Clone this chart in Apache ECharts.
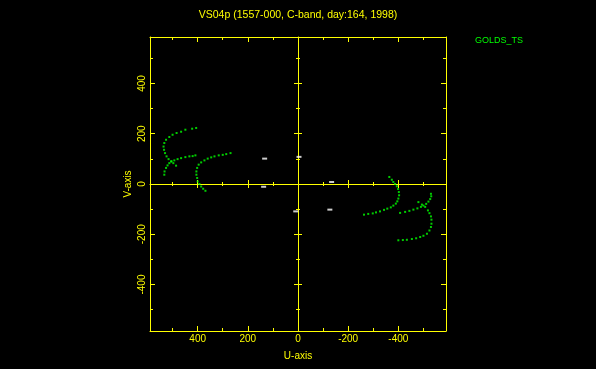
<!DOCTYPE html>
<html><head><meta charset="utf-8">
<script src="https://cdn.jsdelivr.net/npm/echarts@6/dist/echarts.min.js"></script>
<style>html,body{margin:0;padding:0;background:#000}#c{width:596px;height:369px}</style>
</head><body><div id="c"></div><script>
// ---- data ----
const titleText = 'VS04p (1557-000, C-band, day:164, 1998)';
const legendName = 'GOLDS_TS';
const xName = 'U-axis';
const yName = 'V-axis';
const majorLabels = [-400, -200, 0, 200, 400];
const majorTicks = [-400, -200, 200, 400];
const minorTicks = [-500, -300, -100, 100, 300, 500];

// green tracks (u, v)
const trackA = [[406,223],[422,220],[449,216],[466,208],[484,203],[500,196],[513,187],[526,176],[533,163],[536,149],[534,136],[530,123],[524,110],[516,99],[506,90],[497,83],[486,73]];
const trackB = [[533,37],[532,50],[526,64],[520,74],[513,83],[504,90],[493,94],[480,99],[466,103],[449,107],[433,110],[420,111],[409,114]];
const trackC = [[269,123],[286,119],[300,116],[316,114],[333,110],[346,106],[360,101],[373,94],[386,86],[396,77],[402,64],[405,50],[405,37],[402,24],[400,10],[393,0],[386,-10],[378,-19],[369,-27]];
const trackA2 = [[-480,-72],[-494,-82],[-507,-91],[-518,-105],[-524,-116],[-530,-129],[-532,-142],[-532,-158],[-530,-171],[-524,-185],[-514,-198],[-500,-206],[-487,-211],[-471,-216],[-454,-219],[-434,-222],[-418,-223],[-400,-224]];
const trackB2 = [[-530,-39],[-531,-49],[-527,-60],[-520,-70],[-511,-79],[-500,-86],[-490,-91],[-476,-97],[-460,-102],[-444,-107],[-427,-111],[-407,-115]];
const trackC2 = [[-364,28],[-374,17],[-380,8],[-387,0],[-394,-9],[-399,-20],[-402,-32],[-403,-45],[-400,-58],[-396,-69],[-390,-78],[-380,-86],[-370,-93],[-356,-98],[-343,-103],[-327,-109],[-311,-113],[-298,-117],[-280,-119],[-263,-122]];
// white short marks
const whiteMarks = [[133,101],[-4,108],[137,-11],[-134,8],[-127,-102],[9,-109]];

// ---- styling ----
const Y = '#ffff00';
const G = '#00ff00';
const FONT = 'Liberation Sans';
const XR = 590, YR = 585;

function axis(dim, o) {
  const a = {
    type: 'value', min: dim === 'x' ? -XR : -YR, max: dim === 'x' ? XR : YR,
    inverse: dim === 'x', position: o.pos, splitLine: {show: false},
    axisLine: {show: !!o.line, onZero: !!o.zero, onZeroAxisIndex: 0, lineStyle: {color: Y, width: 1}},
    axisTick: {show: true, inside: !!o.inside, length: o.len, customValues: o.ticks, lineStyle: {color: Y, width: 1}},
    axisLabel: {show: false}
  };
  if (o.labels) {
    a.axisLabel = {show: true, customValues: majorLabels, color: Y, fontSize: 10, fontFamily: FONT, margin: 3, rotate: dim === 'y' ? 90 : 0};
    a.name = o.name; a.nameLocation = 'middle'; a.nameGap = o.gap;
    a.nameTextStyle = {color: Y, fontSize: 10, fontFamily: FONT};
  }
  return a;
}

const xAxes = [
  axis('x', {pos: 'bottom', line: true, inside: true, len: 5, ticks: majorTicks, labels: true, name: xName, gap: 20}),
  axis('x', {pos: 'bottom', inside: true, len: 3, ticks: minorTicks}),
  axis('x', {pos: 'top', line: true, inside: true, len: 5, ticks: majorTicks}),
  axis('x', {pos: 'top', inside: true, len: 3, ticks: minorTicks}),
  axis('x', {pos: 'bottom', zero: true, line: true, inside: false, len: 4, ticks: majorTicks}),
  axis('x', {pos: 'bottom', zero: true, inside: true, len: 4, ticks: majorTicks}),
  axis('x', {pos: 'bottom', zero: true, inside: false, len: 2, ticks: minorTicks}),
  axis('x', {pos: 'bottom', zero: true, inside: true, len: 2, ticks: minorTicks})
];
const yAxes = [
  axis('y', {pos: 'left', line: true, inside: true, len: 5, ticks: majorTicks, labels: true, name: yName, gap: 17}),
  axis('y', {pos: 'left', inside: true, len: 3, ticks: minorTicks}),
  axis('y', {pos: 'right', line: true, inside: true, len: 5, ticks: majorTicks}),
  axis('y', {pos: 'right', inside: true, len: 3, ticks: minorTicks}),
  axis('y', {pos: 'left', zero: true, line: true, inside: false, len: 4, ticks: majorTicks}),
  axis('y', {pos: 'left', zero: true, inside: true, len: 4, ticks: majorTicks}),
  axis('y', {pos: 'left', zero: true, inside: false, len: 2, ticks: minorTicks}),
  axis('y', {pos: 'left', zero: true, inside: true, len: 2, ticks: minorTicks})
];

const chart = echarts.init(document.getElementById('c'), null, {renderer: 'canvas'});
chart.setOption({
  backgroundColor: '#000',
  animation: false,
  title: {text: titleText, left: 'center', top: 10, padding: 0,
    textStyle: {color: Y, fontSize: 10.5, fontWeight: 'normal', fontFamily: FONT}},
  legend: {data: [{name: legendName, icon: 'none'}], left: 470, top: 34, padding: 0,
    itemWidth: 0, itemHeight: 14, selectedMode: false,
    textStyle: {color: '#00ff00', fontSize: 9, fontFamily: FONT}},
  grid: {left: 150, right: 150, top: 37, bottom: 38, containLabel: false, outerBoundsMode: 'none'},
  xAxis: xAxes,
  yAxis: yAxes,
  series: [
    {name: legendName, type: 'scatter', symbol: 'rect', symbolSize: 2,
      itemStyle: {color: G}, data: [].concat(trackA, trackB, trackC, trackA2, trackB2, trackC2)},
    {name: 'other', type: 'scatter', symbol: 'rect', symbolSize: [5, 2],
      itemStyle: {color: '#ffffff'}, data: whiteMarks}
  ]
});
</script></body></html>
